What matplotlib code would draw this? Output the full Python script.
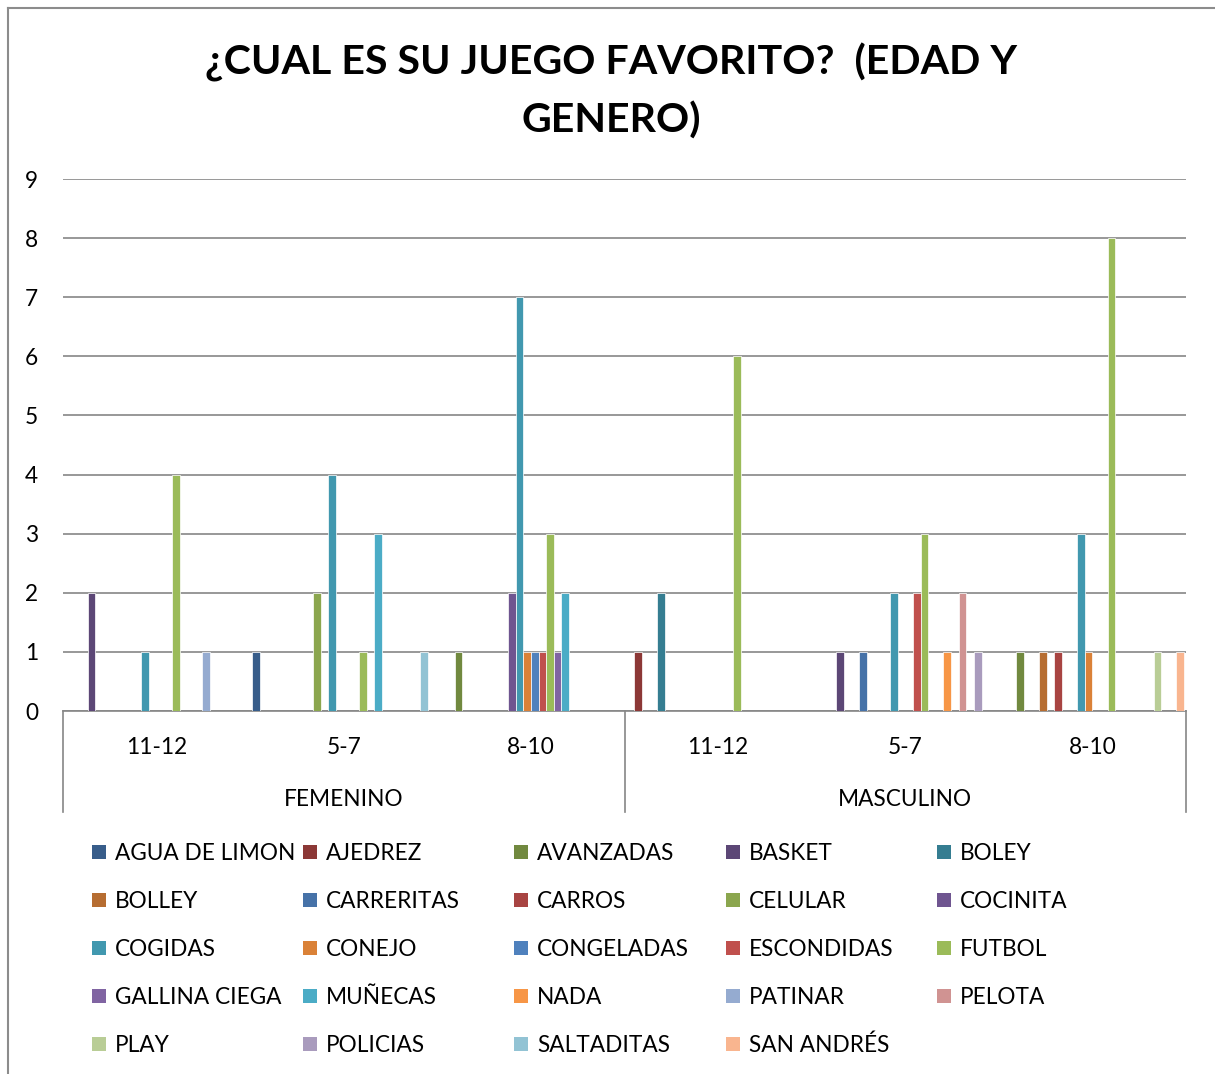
import numpy as np
import matplotlib
matplotlib.use("Agg")
import matplotlib.pyplot as plt
from matplotlib.patches import Rectangle
from matplotlib.lines import Line2D

plt.rcParams['font.family'] = ['Lato', 'DejaVu Sans']

title = "¿CUAL ES SU JUEGO FAVORITO?  (EDAD Y\nGENERO)"
ages = ["11-12", "5-7", "8-10", "11-12", "5-7", "8-10"]
genders = ["FEMENINO", "MASCULINO"]
series_names = ["AGUA DE LIMON", "AJEDREZ", "AVANZADAS", "BASKET", "BOLEY",
                "BOLLEY", "CARRERITAS", "CARROS", "CELULAR", "COCINITA",
                "COGIDAS", "CONEJO", "CONGELADAS", "ESCONDIDAS", "FUTBOL",
                "GALLINA CIEGA", "MUÑECAS", "NADA", "PATINAR", "PELOTA",
                "PLAY", "POLICIAS", "SALTADITAS", "SAN ANDRÉS"]
colors = ["#385D8A", "#8C3836", "#71893F", "#5C4776", "#357D91", "#B66D31",
          "#4672A8", "#A84442", "#8BA64E", "#6F5590", "#4198AF", "#DA8137",
          "#4F81BD", "#C0504D", "#9BBB59", "#8064A2", "#4BACC6", "#F79646",
          "#95ABD0", "#D09392", "#B9CD96", "#A99BBD", "#92C3D4", "#F9B58F"]

# values per series, for categories: F 11-12, F 5-7, F 8-10, M 11-12, M 5-7, M 8-10
AGUA_DE_LIMON = [0, 1, 0, 0, 0, 0]
AJEDREZ       = [0, 0, 0, 1, 0, 0]
AVANZADAS     = [0, 0, 1, 0, 0, 1]
BASKET        = [2, 0, 0, 0, 1, 0]
BOLEY         = [0, 0, 0, 2, 0, 0]
BOLLEY        = [0, 0, 0, 0, 0, 1]
CARRERITAS    = [0, 0, 0, 0, 1, 0]
CARROS        = [0, 0, 0, 0, 0, 1]
CELULAR       = [0, 2, 0, 0, 0, 0]
COCINITA      = [0, 0, 2, 0, 0, 0]
COGIDAS       = [1, 4, 7, 0, 2, 3]
CONEJO        = [0, 0, 1, 0, 0, 1]
CONGELADAS    = [0, 0, 1, 0, 0, 0]
ESCONDIDAS    = [0, 0, 1, 0, 2, 0]
FUTBOL        = [4, 1, 3, 6, 3, 8]
GALLINA_CIEGA = [0, 0, 1, 0, 0, 0]
MUNECAS       = [0, 3, 2, 0, 0, 0]
NADA          = [0, 0, 0, 0, 1, 0]
PATINAR       = [1, 0, 0, 0, 0, 0]
PELOTA        = [0, 0, 0, 0, 2, 0]
PLAY          = [0, 0, 0, 0, 0, 1]
POLICIAS      = [0, 0, 0, 0, 1, 0]
SALTADITAS    = [0, 1, 0, 0, 0, 0]
SAN_ANDRES    = [0, 0, 0, 0, 0, 1]

values = [AGUA_DE_LIMON, AJEDREZ, AVANZADAS, BASKET, BOLEY, BOLLEY, CARRERITAS,
          CARROS, CELULAR, COCINITA, COGIDAS, CONEJO, CONGELADAS, ESCONDIDAS,
          FUTBOL, GALLINA_CIEGA, MUNECAS, NADA, PATINAR, PELOTA, PLAY,
          POLICIAS, SALTADITAS, SAN_ANDRES]

W, H = 1215, 1074
fig = plt.figure(figsize=(W / 100, H / 100), dpi=100)
fig.patch.set_facecolor("white")

def fx(px):
    return px / W

def fy(py):
    return 1 - py / H

# chart border (left and top visible)
fig.add_artist(Line2D([fx(8), fx(8)], [fy(8), 0], color="#8C8C8C", lw=1.5))
fig.add_artist(Line2D([fx(8), 1], [fy(8), fy(8)], color="#8C8C8C", lw=1.5))

L, R, T, B = 63, 1186, 179, 711
ax = fig.add_axes([fx(L), fy(B), fx(R) - fx(L), fy(T) - fy(B)])

n = len(series_names)
ncat = len(ages)
slot = 1.0 / 24.5
x = np.arange(ncat)
for i, (name, vals) in enumerate(zip(series_names, values)):
    ax.bar(x + (i - (n - 1) / 2) * slot, vals, width=slot, color=colors[i],
           edgecolor="white", linewidth=0.5, label=name, zorder=3)

FS = 16.3
ax.set_xlim(-0.5, ncat - 0.5)
ax.set_ylim(0, 9)
ax.set_yticks(range(0, 10))
ax.yaxis.grid(True, color="#868686", lw=1.2, zorder=0)
ax.set_axisbelow(True)
for s in ["left", "right", "top"]:
    ax.spines[s].set_visible(False)
ax.spines["bottom"].set_color("#868686")
ax.spines["bottom"].set_linewidth(1.2)
ax.tick_params(axis="y", length=0, pad=18, labelsize=FS)
ax.set_xticks(x)
ax.set_xticklabels(ages, fontsize=FS)
ax.tick_params(axis="x", length=0, pad=19)

ph = B - T
# vertical separators of the two-level category axis
for xs in [-0.5, 2.5, 5.5]:
    ax.plot([xs, xs], [0, -101 / ph], transform=ax.get_xaxis_transform(),
            color="#868686", lw=1.2, clip_on=False)
for gi, g in enumerate(genders):
    ax.text(gi * 3 + 1, -88 / ph, g, transform=ax.get_xaxis_transform(),
            ha="center", va="center", fontsize=FS)

fig.text(fx(611), fy(91.5), title, ha="center", va="center", fontsize=29.6,
         fontweight="bold", linespacing=1.63)

# legend, row-major 5 columns
col_x = [115, 326, 537, 749, 960]
row_y = [853, 901, 949, 997, 1045]
sq = 14
for i, name in enumerate(series_names):
    r, c = divmod(i, 5)
    tx, ty = col_x[c], row_y[r]
    fig.add_artist(Rectangle((fx(tx - 23), fy(ty - 1 + sq / 2)), fx(sq), sq / H,
                             facecolor=colors[i], edgecolor="none"))
    fig.text(fx(tx), fy(ty), name, ha="left", va="center", fontsize=FS)

fig.savefig("out.png", dpi=100)
